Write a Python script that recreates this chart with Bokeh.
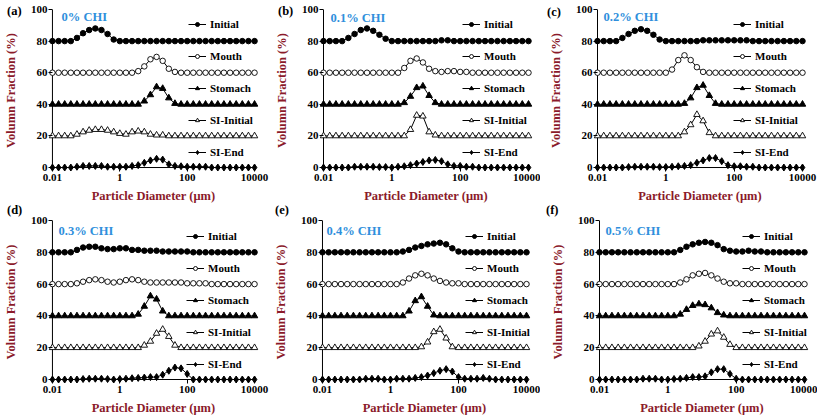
from bokeh.plotting import figure
from bokeh.models import Range1d, FixedTicker, CustomJSTickFormatter, Legend, LegendItem, Label, Div
from bokeh.layouts import column, row
from bokeh.embed import file_html
from bokeh.resources import INLINE

# ---------------- data ----------------
x_um = [0.01, 0.0152, 0.0231, 0.0351, 0.0534, 0.0811, 0.1233, 0.1874, 0.2848, 0.4329, 0.6579,
        1.0, 1.520, 2.310, 3.511, 5.337, 8.111, 12.33, 18.74, 28.48, 43.29, 65.79,
        100.0, 152.0, 231.0, 351.1, 533.7, 811.1, 1233.0, 1874.0, 2848.0, 4329.0, 6579.0, 10000.0]

series_names = ["Initial", "Mouth", "Stomach", "SI-Initial", "SI-End"]
x_ticks = [0.01, 1, 100, 10000]
y_ticks = [0, 20, 40, 60, 80, 100]
panel_letters = ["(a)", "(b)", "(c)", "(d)", "(e)", "(f)"]
panel_titles = ["0% CHI", "0.1% CHI", "0.2% CHI", "0.3% CHI", "0.4% CHI", "0.5% CHI"]

# (a) 0% CHI
initial_a = [80, 80, 80, 80, 82, 85, 87, 88, 87, 84.5, 81,
             80, 80, 80, 80, 80, 80, 80, 80, 80, 80, 80,
             80, 80, 80, 80, 80, 80, 80, 80, 80, 80, 80, 80]
mouth_a = [60, 60, 60, 60, 60, 60, 60, 60, 60, 60, 60,
           60, 60, 60, 61, 64, 68.5, 70, 67.5, 62.5, 60.5, 60,
           60, 60, 60, 60, 60, 60, 60, 60, 60, 60, 60, 60]
stomach_a = [40, 40, 40, 40, 40, 40, 40, 40, 40, 40, 40,
             40, 40, 40, 40, 42, 46, 51, 50, 44, 40.5, 40,
             40, 40, 40, 40, 40, 40, 40, 40, 40, 40, 40, 40]
siinit_a = [20, 20, 20, 20, 21, 22.5, 23.5, 24, 24, 23.5, 22.5,
            21.5, 21, 22.5, 23, 22.5, 21, 20.5, 20.5, 20, 20, 20,
            20, 20, 20, 20, 20, 20, 20, 20, 20, 20, 20, 20]
siend_a = [0, 0, 0, 0, 0.5, 1, 1, 1, 1, 0.5, 0.5,
           0.5, 0.5, 1, 1.5, 3, 4.5, 5.5, 5, 2, 1, 0.8,
           0.5, 0.5, 0.5, 0.5, 0, 0, 0, 0, 0, 0, 0, 0]

# (b) 0.1% CHI
initial_b = [80, 80, 80, 80, 82, 84.5, 87, 88, 86.5, 84, 81.5,
             80, 80, 80, 80, 80, 80, 80, 80, 80.5, 80.5, 80,
             80, 80, 80, 80, 80, 80, 80, 80, 80, 80, 80, 80]
mouth_b = [60, 60, 60, 60, 60, 60, 60, 60, 60, 60, 60,
           60, 60, 63, 67.5, 69, 66.5, 62.5, 61, 60.5, 61, 61,
           60.5, 60.5, 60, 60, 60, 60, 60, 60, 60, 60, 60, 60]
stomach_b = [40, 40, 40, 40, 40, 40, 40, 40, 40, 40, 40,
             40, 40, 41, 45, 50.5, 51.5, 45.5, 41, 40, 40, 40,
             40, 40, 40, 40, 40, 40, 40, 40, 40, 40, 40, 40]
siinit_b = [20, 20, 20, 20, 20, 20, 20, 20, 20, 20, 20,
            20, 20, 20, 24, 33, 32.5, 22.5, 20.5, 20, 20, 20,
            20, 20, 20, 20, 20, 20, 20, 20, 20, 20, 20, 20]
siend_b = [0, 0, 0, 0, 0, 0.5, 0.5, 0.5, 0.5, 0.3, 0.3,
           0, 0.5, 0.8, 1.5, 2.5, 3.5, 4.5, 4.8, 4, 2, 1,
           1, 0.5, 0.5, 0, 0, 0, 0, 0, 0, 0, 0, 0]

# (c) 0.2% CHI
initial_c = [80, 80, 80, 80, 82, 84.5, 86.5, 87.5, 86.5, 84, 81,
             80, 80, 80, 80, 80, 80, 80.5, 80.5, 80.5, 80.5, 80.5,
             80.5, 80.5, 80.5, 80, 80, 80, 80, 80, 80, 80, 80, 80]
mouth_c = [60, 60, 60, 60, 60, 60, 60, 60, 60, 60, 60,
           60, 62, 68, 71, 68, 63.5, 60.5, 60, 60, 60, 60,
           60, 60, 60, 60, 60, 60, 60, 60, 60, 60, 60, 60]
stomach_c = [40, 40, 40, 40, 40, 40, 40, 40, 40, 40, 40,
             40, 40, 40, 40.5, 44, 50.5, 52, 45.5, 40.5, 40, 40,
             40, 40, 40, 40, 40, 40, 40, 40, 40, 40, 40, 40]
siinit_c = [20, 20, 20, 20, 20, 20, 20, 20, 20, 20, 20,
            20, 20, 20, 22.5, 27, 33.5, 29.5, 22, 20, 20, 20,
            20, 20, 20, 20, 20, 20, 20, 20, 20, 20, 20, 20]
siend_c = [0, 0, 0, 0, 0, 0.3, 0.5, 0.5, 0.5, 0.5, 0.3,
           0.3, 0.5, 0.8, 1, 1.5, 3, 4.5, 6, 6, 4, 1.5,
           0.8, 0.8, 0.5, 0.5, 0, 0, 0, 0, 0, 0, 0, 0]

# (d) 0.3% CHI
initial_d = [80, 80, 80, 80, 81.5, 83, 83.5, 83.5, 82.5, 82, 82,
             82.5, 82.5, 81.5, 81.5, 81, 81, 81, 80.5, 80.5, 80.5, 80.5,
             80.5, 80, 80, 80, 80, 80, 80, 80, 80, 80, 80, 80]
mouth_d = [60, 60, 60, 60, 60.5, 61.5, 62.5, 63, 62.5, 61.5, 61,
           61.5, 62.5, 63, 62.5, 61.5, 61, 61, 61, 61, 61, 61,
           60.5, 60.5, 60.5, 60.5, 60, 60, 60, 60, 60, 60, 60, 60]
stomach_d = [40, 40, 40, 40, 40, 40, 40, 40, 40, 40, 40,
             40, 40, 40, 41, 46, 52.5, 50.5, 43, 40, 40, 40,
             40, 40, 40, 40, 40, 40, 40, 40, 40, 40, 40, 40]
siinit_d = [20, 20, 20, 20, 20, 20, 20, 20, 20, 20, 20,
            20, 20, 20, 20, 21.5, 24, 29, 31.5, 27, 21.5, 20,
            20, 20, 20, 20, 20, 20, 20, 20, 20, 20, 20, 20]
siend_d = [0, 0, 0, 0, 0, 0.3, 0.5, 0.5, 0.5, 0.3, 0,
           0.3, 0.5, 0.8, 1, 1.2, 1.5, 1.5, 3, 5.5, 7.5, 7,
           3.5, 0, 0, 0, 0, 0, 0, 0, 0, 0, 0, 0]

# (e) 0.4% CHI
initial_e = [80, 80, 80, 80, 80, 80, 80, 80, 80, 80, 80,
             80, 80, 80.5, 81.5, 83, 84, 85, 85.5, 86, 85, 82.5,
             80.5, 80, 80, 80, 80, 80, 80, 80, 80, 80, 80, 80]
mouth_e = [60, 60, 60, 60, 60, 60, 60, 60, 60, 60, 60,
           60, 60, 61, 63.5, 65.5, 66.5, 65.5, 63.5, 62, 61, 60.5,
           60.5, 60, 60, 60, 60, 60, 60, 60, 60, 60, 60, 60]
stomach_e = [40, 40, 40, 40, 40, 40, 40, 40, 40, 40, 40,
             40, 40, 40, 43, 49.5, 52, 46, 40.5, 40, 40, 40,
             40, 40, 40, 40, 40, 40, 40, 40, 40, 40, 40, 40]
siinit_e = [20, 20, 20, 20, 20, 20, 20, 20, 20, 20, 20,
            20, 20, 20, 20, 20, 20.5, 23.5, 30, 31.5, 26, 20.5,
            20, 20, 20, 20, 20, 20, 20, 20, 20, 20, 20, 20]
siend_e = [0, 0, 0, 0, 0, 0, 0, 0.5, 0.5, 0.5, 0,
           0, 0.5, 0.5, 0.5, 1, 1.5, 2.5, 4, 5.5, 6.5, 5,
           1.5, 0.5, 0.5, 0.5, 1, 0.5, 0, 0, 0, 0, 0, 0]

# (f) 0.5% CHI
initial_f = [80, 80, 80, 80, 80, 80, 80, 80, 80, 80, 80,
             80, 80, 81.5, 83.5, 85, 86, 86.5, 86, 84.5, 82, 81,
             80.5, 80.5, 81, 80.5, 80.5, 80, 80, 80, 80, 80, 80, 80]
mouth_f = [60, 60, 60, 60, 60, 60, 60, 60, 60, 60, 60,
           60, 60, 61, 63, 65.5, 66.5, 67, 65.5, 63.5, 61.5, 60.5,
           60.5, 60, 60, 60, 60, 60, 60, 60, 60, 60, 60, 60]
stomach_f = [40, 40, 40, 40, 40, 40, 40, 40, 40, 40, 40,
             40, 40, 41, 44, 46.5, 47.5, 47, 45, 42, 40.5, 40,
             40, 40, 40, 40, 40, 40, 40, 40, 40, 40, 40, 40]
siinit_f = [20, 20, 20, 20, 20, 20, 20, 20, 20, 20, 20,
            20, 20, 20, 20, 20, 21, 24, 28.5, 30.5, 26.5, 22,
            20, 20, 20, 20, 20, 20, 20, 20, 20, 20, 20, 20]
siend_f = [0, 0, 0, 0, 0, 0, 0, 0.5, 0.5, 0.5, 0,
           0, 0.3, 0.5, 1, 1.5, 1.5, 2, 4.5, 6.5, 6.5, 3.5,
           0.5, 0, 0, 0, 0, 0, 0, 0, 0, 0, 0, 0]

panel_data = [
    [initial_a, mouth_a, stomach_a, siinit_a, siend_a],
    [initial_b, mouth_b, stomach_b, siinit_b, siend_b],
    [initial_c, mouth_c, stomach_c, siinit_c, siend_c],
    [initial_d, mouth_d, stomach_d, siinit_d, siend_d],
    [initial_e, mouth_e, stomach_e, siinit_e, siend_e],
    [initial_f, mouth_f, stomach_f, siinit_f, siend_f],
]
for pd_ in panel_data:
    for s in pd_:
        assert len(s) == len(x_um), len(s)

# ---------------- styles / layout ----------------
SERIF = "Liberation Serif"
AXIS_RED = "#8b1a2a"
TITLE_BLUE = "#2f8fdc"
marker_styles = [
    dict(marker="circle", size=5.5, fill_color="black", line_color="black"),
    dict(marker="circle", size=5.5, fill_color="white", line_color="black", line_width=0.9),
    dict(marker="triangle", size=6.5, fill_color="black", line_color="black"),
    dict(marker="triangle", size=6.5, fill_color="white", line_color="black", line_width=0.9),
    dict(marker="diamond", size=7, fill_color="black", line_color="black"),
]

DATA_W = 205          # px for the 6 decades
DATA_H = 159          # px for 0..100
PAD = 4               # px padding so edge markers are not clipped
FRAME_H = DATA_H + PAD

geom = [
    # width, height, left, right, top, bottom, legend_x, title_x, title_dy
    (270, 205, 45, 12, 9, 33, 140, 13, 8),
    (270, 205, 49, 8, 9, 33, 143, 11, 9),
    (277, 205, 53, 11, 9, 33, 140, 10, 8),
    (270, 214, 45, 12, 15, 36, 138, 10, 10),
    (270, 214, 47, 10, 15, 36, 147, 8, 10),
    (277, 214, 55, 9, 15, 36, 147, 10, 10),
]
# page position (left, top) of the panel letters
letter_pos = [(2, -1), (273, -1), (542, 0), (2, 198), (270, 198), (541, 198)]

dec_px = DATA_W / 6.0
pad_fac = 10 ** (PAD / dec_px)
y_pad = PAD * (y_ticks[-1] - y_ticks[0]) / DATA_H


def make_panel(k):
    w, h, ml, mr, mt, mb, lx, tx, tdy = geom[k]
    p = figure(width=w, height=h, x_axis_type="log",
               x_range=Range1d(x_ticks[0] / pad_fac, x_ticks[-1] * pad_fac),
               y_range=Range1d(y_ticks[0] - y_pad, y_ticks[-1]),
               output_backend="svg", toolbar_location=None,
               min_border_left=ml, min_border_right=mr,
               min_border_top=mt, min_border_bottom=mb)
    p.background_fill_color = "white"
    p.border_fill_color = "white"
    p.outline_line_color = None
    p.xgrid.visible = False
    p.ygrid.visible = False

    # axis lines at the data origin
    p.segment(x0=[x_ticks[0]], y0=[y_ticks[0]], x1=[x_ticks[0]], y1=[y_ticks[-1]],
              line_color="black", line_width=1)
    p.segment(x0=[x_ticks[0]], y0=[y_ticks[0]], x1=[x_ticks[-1]], y1=[y_ticks[0]],
              line_color="black", line_width=1)

    p.xaxis.ticker = FixedTicker(ticks=x_ticks)
    p.yaxis.ticker = FixedTicker(ticks=y_ticks)
    p.xaxis.formatter = CustomJSTickFormatter(code="return String(tick);")
    p.axis.axis_line_color = None
    p.axis.minor_tick_line_color = None
    p.axis.major_tick_line_color = "black"
    p.axis.major_tick_out = 0
    p.axis.major_tick_in = PAD
    p.axis.major_label_text_font = SERIF
    p.axis.major_label_text_font_style = "bold"
    p.axis.major_label_text_font_size = "11px"
    p.axis.major_label_text_color = "black"
    p.yaxis.major_label_standoff = 1
    p.xaxis.major_label_standoff = 2
    p.xaxis.axis_label = "Particle Diameter (\u03bcm)"
    p.yaxis.axis_label = "Volumn Fraction (%)"
    p.axis.axis_label_text_font = SERIF
    p.axis.axis_label_text_font_style = "bold"
    p.axis.axis_label_text_font_size = "12.5px"
    p.axis.axis_label_text_color = AXIS_RED
    p.yaxis.axis_label_standoff = 10
    p.xaxis.axis_label_standoff = 5

    items = []
    for name, ys, ms in zip(series_names, panel_data[k], marker_styles):
        lr = p.line(x_um, ys, line_color="black", line_width=1)
        sr = p.scatter(x_um, ys, **ms)
        items.append(LegendItem(label=name, renderers=[lr, sr]))

    leg = Legend(items=items, location=(lx, 13), orientation="vertical",
                 glyph_width=18, glyph_height=10, label_height=10, spacing=20,
                 padding=0, margin=0, label_standoff=4,
                 border_line_color=None, background_fill_alpha=0,
                 label_text_font=SERIF, label_text_font_style="bold",
                 label_text_font_size="11px", label_text_color="black")
    p.add_layout(leg)

    p.add_layout(Label(x=tx, y=FRAME_H - tdy, x_units="screen", y_units="screen",
                       text=panel_titles[k], text_color=TITLE_BLUE, text_font=SERIF,
                       text_font_style="bold", text_font_size="12.5px",
                       text_baseline="middle", text_align="left"))
    return p


panels = [make_panel(k) for k in range(6)]

letters = []
for txt, (lx, ly) in zip(panel_letters, letter_pos):
    letters.append(Div(text=txt, width=20, height=14,
                       styles={"position": "absolute", "left": f"{lx}px", "top": f"{ly}px",
                               "font-family": SERIF, "font-weight": "bold",
                               "font-size": "12.5px", "line-height": "14px",
                               "color": "black", "z-index": "10"}))

layout = column(row(panels[0], panels[1], panels[2]),
                row(panels[3], panels[4], panels[5]),
                *letters, styles={"position": "relative"})

open("out.html", "w").write(file_html(layout, INLINE))
